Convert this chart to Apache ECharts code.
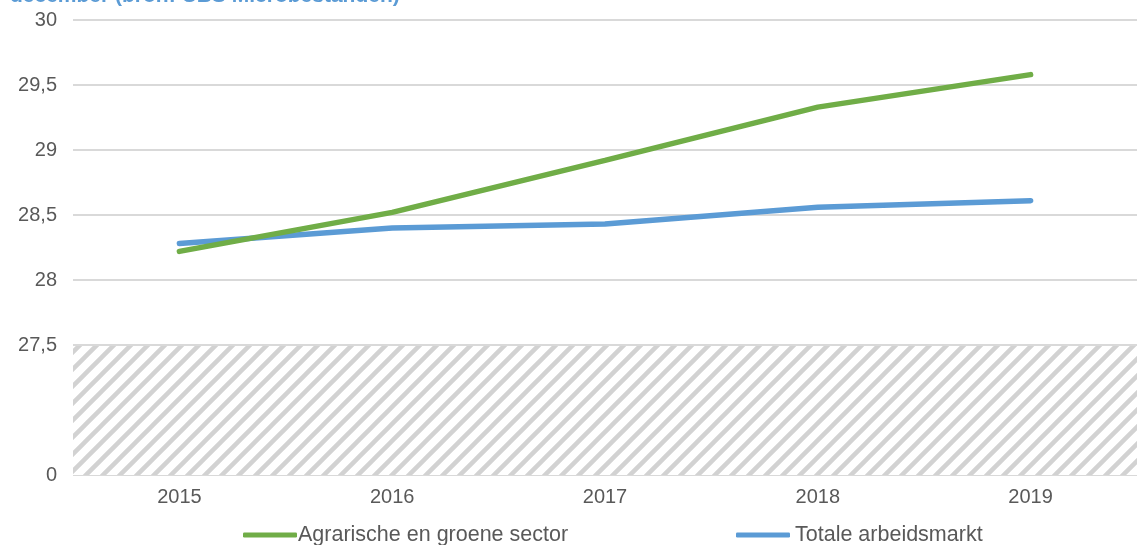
<!DOCTYPE html>
<html>
<head>
<meta charset="utf-8">
<script src="https://cdn.jsdelivr.net/npm/echarts@6/dist/echarts.min.js"></script>
<style>
  html, body { margin: 0; padding: 0; background: #fff; }
  #chart { width: 1137px; height: 545px; }
</style>
</head>
<body>
<div id="chart"></div>
<script>
const years = ['2015', '2016', '2017', '2018', '2019']
const agrarisch = [28.22, 28.52, 28.92, 29.33, 29.58]
const totaal = [28.28, 28.40, 28.43, 28.56, 28.61]
// the axis is broken: 26.5 on the scale is labelled "0"
const breakLow = 26.5
const breakHigh = 27.5

// diagonal hatching for the broken part of the axis
function hatch() {
  const s = 17
  const c = document.createElement('canvas')
  c.width = s
  c.height = s
  const ctx = c.getContext('2d')
  ctx.fillStyle = '#ffffff'
  ctx.fillRect(0, 0, s, s)
  ctx.strokeStyle = '#d2d2d2'
  ctx.lineWidth = 4.5
  ctx.beginPath()
  ctx.moveTo(0, s); ctx.lineTo(s, 0)
  ctx.moveTo(-s / 2, s / 2); ctx.lineTo(s / 2, -s / 2)
  ctx.moveTo(s / 2, s * 1.5); ctx.lineTo(s * 1.5, s / 2)
  ctx.stroke()
  return c
}

const textColor = '#595959'
const chart = echarts.init(document.getElementById('chart'))
chart.setOption({
  animation: false,
  textStyle: { fontFamily: 'Liberation Sans, Arial, sans-serif' },
  title: {
    text: 'december (bron: CBS Microbestanden)',
    left: 5,
    top: -19.5,
    textStyle: { color: '#5B9BD5', fontSize: 21, fontWeight: 'bold' }
  },
  grid: { left: 73, right: -5, top: 20, bottom: 70 },
  legend: [
    {
      data: ['Agrarische en groene sector'],
      left: 238, top: 519,
      icon: 'roundRect', itemWidth: 54, itemHeight: 5, itemGap: 0,
      textStyle: { color: textColor, fontSize: 21.5, padding: [0, 0, 0, -4] }
    },
    {
      data: ['Totale arbeidsmarkt'],
      left: 731, top: 519,
      icon: 'roundRect', itemWidth: 54, itemHeight: 5, itemGap: 0,
      textStyle: { color: textColor, fontSize: 21.5, padding: [0, 0, 0, 0] }
    }
  ],
  xAxis: {
    type: 'category',
    data: years,
    boundaryGap: true,
    axisLine: { show: false },
    axisTick: { show: false },
    axisLabel: { color: textColor, fontSize: 20, margin: 12 }
  },
  yAxis: {
    type: 'value',
    min: breakLow,
    max: 30,
    interval: 0.5,
    axisLine: { show: false },
    axisTick: { show: false },
    axisLabel: {
      color: textColor,
      fontSize: 20,
      margin: 16,
      formatter: v => {
        if (v === breakLow) return '0'
        if (v < breakHigh) return ''
        return String(v).replace('.', ',')
      }
    },
    splitLine: { lineStyle: { color: '#d9d9d9', width: 2 } }
  },
  series: [
    {
      name: 'Agrarische en groene sector',
      type: 'line',
      data: agrarisch,
      symbol: 'none',
      lineStyle: { color: '#70AD47', width: 5.5, cap: 'round' },
      itemStyle: { color: '#70AD47' },
      z: 3,
      markArea: {
        silent: true,
        itemStyle: { color: { image: hatch(), repeat: 'repeat' } },
        data: [[{ yAxis: breakLow }, { yAxis: breakHigh - 0.008 }]]
      }
    },
    {
      name: 'Totale arbeidsmarkt',
      type: 'line',
      data: totaal,
      symbol: 'none',
      lineStyle: { color: '#5B9BD5', width: 5.5, cap: 'round' },
      itemStyle: { color: '#5B9BD5' },
      z: 2
    }
  ]
})
</script>
</body>
</html>
